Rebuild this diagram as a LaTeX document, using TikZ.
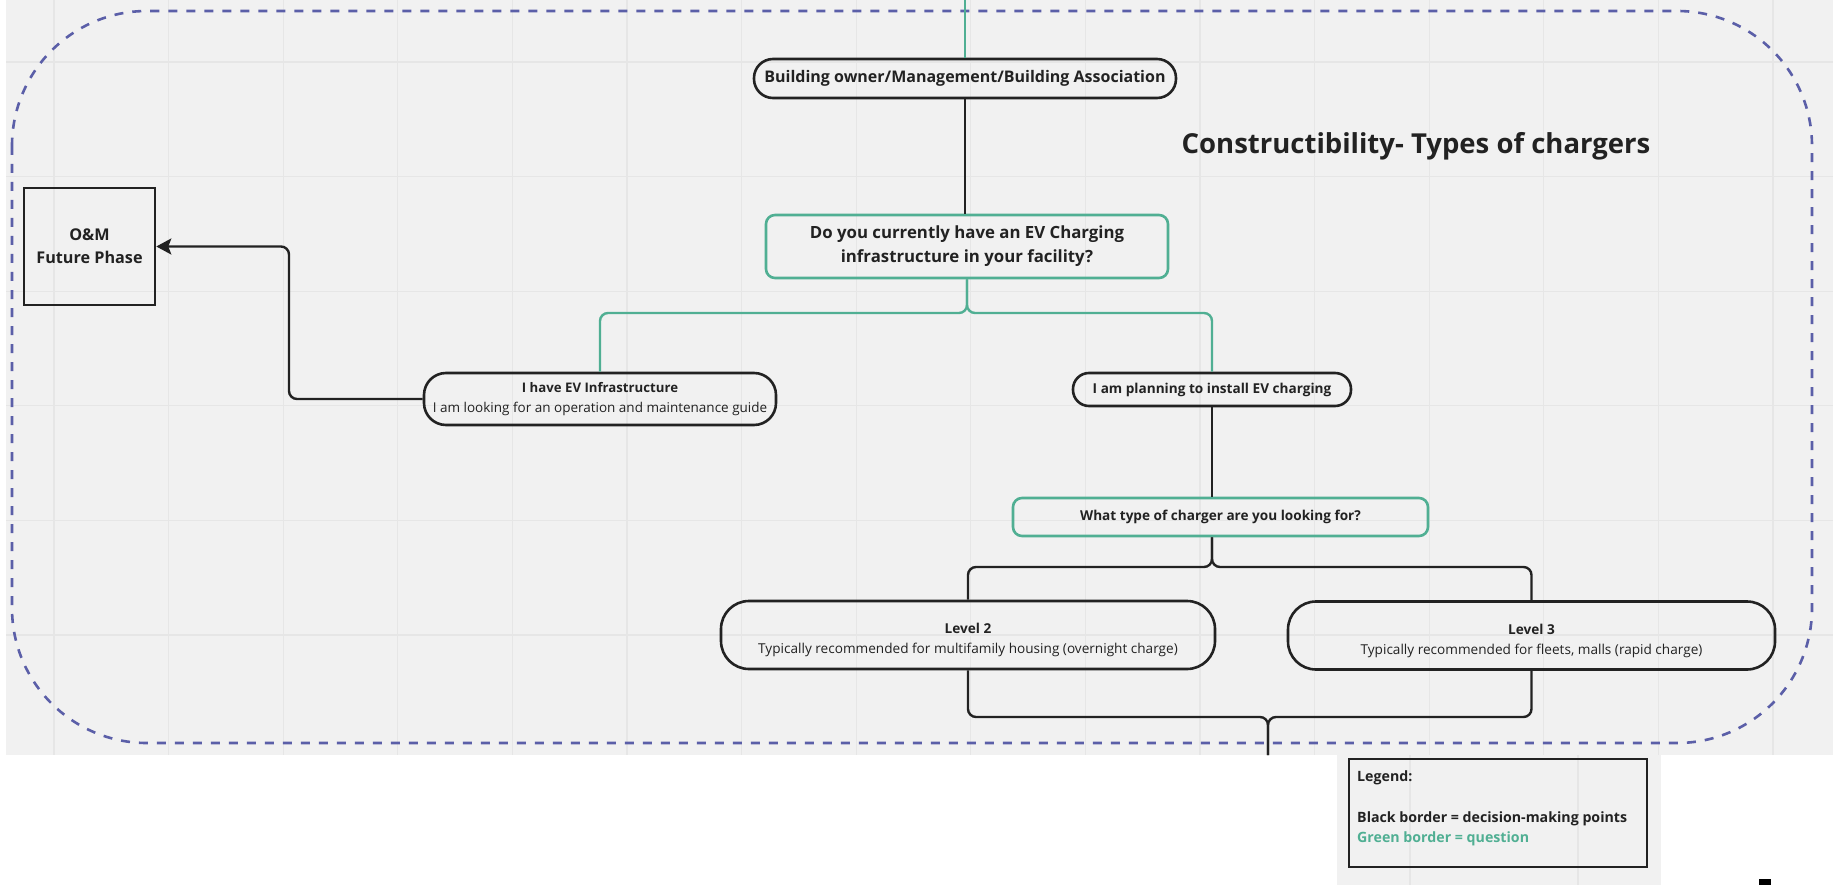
\documentclass[tikz,border=0pt]{standalone}
\usepackage{fontspec}
\setmainfont{Open Sans}
\usetikzlibrary{arrows.meta}
\definecolor{bgc}{HTML}{F1F1F1}
\definecolor{gridc}{HTML}{E6E6E6}
\definecolor{qgreen}{HTML}{50AF93}
\definecolor{dashc}{HTML}{5B5FA8}
\definecolor{ink}{HTML}{222222}
\tikzset{
  blk/.style={draw=ink, line width=2.6pt, align=center, inner sep=0pt, text=ink},
  grn/.style={draw=qgreen, line width=2.6pt, rounded corners=9pt, align=center, inner sep=0pt, text=ink},
  bline/.style={draw=ink, line width=2.4pt, rounded corners=8pt},
  gline/.style={draw=qgreen, line width=2.4pt, rounded corners=8pt},
  fbo/.style={font=\fontsize{16}{24}\selectfont\bfseries},
  fq/.style={font=\fontsize{16.8}{24}\selectfont\bfseries},
  fsm/.style={font=\fontsize{13.5}{20}\selectfont},
  fsmb/.style={font=\fontsize{13.6}{20}\selectfont\bfseries},
  flev/.style={font=\fontsize{13.6}{19.5}\selectfont, align=center, inner sep=0pt, text=ink},
  fleg/.style={font=\fontsize{14.2}{16}\selectfont\bfseries, anchor=west, inner sep=0pt, text=ink},
  gridln/.style={draw=gridc, line width=1.2pt},
}
\begin{document}
\begin{tikzpicture}[x=1pt,y=-1pt]
\useasboundingbox (0,0) rectangle (1833,885);
\fill[white] (0,0) rectangle (1833,885);
\fill[bgc] (6,0) rectangle (1833,755);
\fill[bgc] (1337,755) rectangle (1661,885);
% grid
\foreach \k in {0,...,15} {\draw[gridln] ({54+114.6*\k},0) -- ({54+114.6*\k},755);}
\foreach \k in {0,...,5} {\draw[gridln] (6,{62+114.6*\k}) -- (1833,{62+114.6*\k});}
\draw[gridln] (1410,755) -- (1410,885);
\draw[gridln] (1578,755) -- (1578,885);
% dashed frame
\draw[dashc, line width=2.6pt, dash pattern=on 9pt off 9pt, rounded corners=135pt] (12,11) rectangle (1812,743);
% title
\node[font=\fontsize{27.5}{32}\selectfont\bfseries, text=ink] (title) at (1416,146) {Constructibility- Types of chargers};
% nodes
\node[blk, rounded corners=19pt, minimum width=422pt, minimum height=39pt, fbo] (bo) at (965,78.5) {Building owner/Management/Building Association};
\node[grn, minimum width=402pt, minimum height=63pt, fq] (q) at (967,246.5) {Do you currently have an EV Charging\\infrastructure in your facility?};
\node[blk, minimum width=131pt, minimum height=117pt, font=\fontsize{16.2}{22.7}\selectfont\bfseries] (om) at (89.5,246.5) {O\&M\\Future Phase};
\node[blk, rounded corners=22pt, minimum width=352pt, minimum height=52pt, fsm] (i1) at (600,399) {{\fontsize{13.2}{20}\selectfont\bfseries I have EV Infrastructure}\\I am looking for an operation and maintenance guide};
\node[blk, rounded corners=16pt, minimum width=278pt, minimum height=33pt, fsmb] (i2) at (1212,389.5) {I am planning to install EV charging};
\node[grn, minimum width=415pt, minimum height=38pt, fsmb] (wt) at (1220.5,517) {What type of charger are you looking for?};
\node[blk, rounded corners=28pt, minimum width=494pt, minimum height=68pt] (l2) at (968,635) {};
\node[flev] (l2t) at (968,640) {\textbf{Level 2}\\Typically recommended for multifamily housing (overnight charge)};
\node[blk, rounded corners=28pt, minimum width=487pt, minimum height=68pt] (l3) at (1531.5,635.5) {};
\node[flev] (l3t) at (1531.5,641) {\textbf{Level 3}\\Typically recommended for fleets, malls (rapid charge)};
% legend
\node[draw=ink, line width=2pt, minimum width=298pt, minimum height=108pt, inner sep=0pt] (leg) at (1498,813) {};
\node[fleg] (legt) at (1357,778) {Legend:};
\node[fleg] (legb) at (1357,819) {Black border = decision-making points};
\node[fleg, text=qgreen] (legg) at (1357,839) {Green border = question};
% coordinates
\coordinate (topin) at (965,0);
\coordinate (qs) at (967,313);
\coordinate (bend) at (289,0);
\coordinate (ws) at (1212,567);
\coordinate (lj) at (1268,717);
\coordinate (lout) at (1268,755);
% connectors
\draw[gline] (topin) -- (bo.north);
\draw[bline] (bo.south) -- (bo.south |- q.north);
\draw[gline] (q.south) -- (qs) -| (i1.north);
\draw[gline] (q.south) -- (qs) -| (i2.north);
\draw[bline, -{Stealth[length=15pt, width=16pt, inset=3pt]}] (i1.west) -| (bend |- om.east) -- (om.east);
\draw[bline] (i2.south) -- (i2.south |- wt.north);
\draw[bline] (i2.south |- wt.south) -- (ws) -| (l2.north);
\draw[bline] (i2.south |- wt.south) -- (ws) -| (l3.north);
\draw[bline] (l2.south) |- (lj) -- (lout);
\draw[bline] (l3.south) |- (lj) -- (lout);
% small black mark
\fill[black] (1759,879) rectangle (1771,885);
\end{tikzpicture}
\end{document}
